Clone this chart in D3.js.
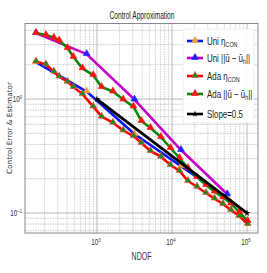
<!DOCTYPE html>
<html>
<head>
<meta charset="utf-8">
<script src="https://cdn.jsdelivr.net/npm/d3@7"></script>
<style>
  body { margin: 0; background: #fff; }
  svg text { font-family: "Liberation Sans", "DejaVu Sans", sans-serif; }
</style>
</head>
<body>
<div id="chart"></div>
<script>
// uniform refinement
var uniNdof = [154, 729, 3162, 13180, 54550];
var uniEta  = [2.11, 1.164, 0.493, 0.258, 0.135];
var uniErr  = [3.79, 2.48, 0.99, 0.357, 0.146];

// adaptive refinement
var adaNdof = [154, 209, 267, 314, 406, 486, 641, 893, 1156, 1634, 2243, 3069, 3920,
               5166, 7129, 9550, 12590, 16340, 21540, 28380, 36870, 47860, 61210, 78890, 102100];
var adaEta  = [2.13, 2.01, 1.74, 1.575, 1.418, 1.274, 1.106, 0.859, 0.70, 0.62, 0.53, 0.473, 0.411,
               0.35, 0.312, 0.264, 0.234, 0.191, 0.170, 0.150, 0.134, 0.120, 0.106, 0.0941, 0.080];
var adaErr  = [3.79, 3.64, 3.45, 3.26, 2.80, 2.34, 1.86, 1.62, 1.274, 1.164, 0.99, 0.859, 0.641,
               0.557, 0.464, 0.372, 0.304, 0.248, 0.207, 0.176, 0.154, 0.137, 0.121, 0.102, 0.0851];

// reference slope
var slopeNdof = [1000, 100000];
var slopeVal  = [1.0, 0.1];

var xTickExp = [3, 4, 5];
var yTickExp = [0, -1];

var svg = d3.select("#chart").append("svg")
  .attr("width", 267).attr("height", 273);

var x = d3.scaleLog().domain([110, 140000]).range([25, 258]);
var y = d3.scaleLog().domain([4.6, 0.0668]).range([23.5, 233]);

// narrow text: the original font is condensed, so squeeze horizontally
function ntext(g, px, py, size, sx, anchor) {
  return g.append("text")
    .attr("transform", "translate(" + px + "," + py + ") scale(" + sx + ",1)")
    .attr("text-anchor", anchor || "start")
    .attr("font-size", size);
}

// grid
var xMinor = [], yMinor = [];
[2, 3, 4].forEach(function(e) { for (var k = 1; k < 10; k++) xMinor.push(k * Math.pow(10, e)); });
xMinor.push(1e5);
[-2, -1, 0].forEach(function(e) { for (var k = 1; k < 10; k++) yMinor.push(k * Math.pow(10, e)); });
xMinor = xMinor.filter(function(v) { return v > 110 && v < 140000; });
yMinor = yMinor.filter(function(v) { return v > 0.0668 && v < 4.6; });
function isMajor(exps, d) { return exps.some(function(e) { return Math.abs(Math.pow(10, e) - d) < 1e-9; }); }

var grid = svg.append("g");
grid.selectAll(".gx").data(xMinor).enter().append("line")
  .attr("x1", function(d) { return x(d); }).attr("x2", function(d) { return x(d); })
  .attr("y1", 23.5).attr("y2", 233)
  .attr("stroke", function(d) { return isMajor(xTickExp, d) ? "#a8a8a8" : "#c4c4c4"; })
  .attr("stroke-width", 0.8)
  .attr("stroke-dasharray", function(d) { return isMajor(xTickExp, d) ? null : "1.5,1"; });
grid.selectAll(".gy").data(yMinor).enter().append("line")
  .attr("y1", function(d) { return y(d); }).attr("y2", function(d) { return y(d); })
  .attr("x1", 25).attr("x2", 258)
  .attr("stroke", function(d) { return isMajor(yTickExp, d) ? "#a8a8a8" : "#bcbcbc"; })
  .attr("stroke-width", 0.8)
  .attr("stroke-dasharray", function(d) { return isMajor(yTickExp, d) ? null : "1.5,1"; });

// frame
svg.append("rect").attr("x", 25).attr("y", 23.5).attr("width", 233).attr("height", 209.5)
  .attr("fill", "none").attr("stroke", "#888").attr("stroke-width", 1);

// tick labels
xTickExp.forEach(function(e) {
  var t = ntext(svg, x(Math.pow(10, e)) - 1, 245, 9, 0.7, "middle").attr("fill", "#333");
  t.append("tspan").text("10");
  t.append("tspan").attr("font-size", 6).attr("dy", -3.5).text(e);
});
yTickExp.forEach(function(e) {
  var t = ntext(svg, 22, y(Math.pow(10, e)) + 3, 9, 0.7, "end").attr("fill", "#333");
  t.append("tspan").text("10");
  t.append("tspan").attr("font-size", 6).attr("dy", -3.5).text(e === 0 ? "0" : "\u22121");
});

// labels
ntext(svg, 142, 19, 10, 0.66, "middle").attr("fill", "#222").text("Control Approximation");
ntext(svg, 141.5, 260, 10, 0.7, "middle").attr("fill", "#333").text("NDOF");
svg.append("text").attr("transform", "translate(12,128) rotate(-90)").attr("text-anchor", "middle")
  .style("font-family", "DejaVu Sans").attr("font-size", 7.3).attr("fill", "#333")
  .text("Control Error & Estimator");

var line = d3.line().x(function(d) { return x(d[0]); }).y(function(d) { return y(d[1]); });

var series = [
  { xs: uniNdof, ys: uniEta, color: "#0a14ff", mfill: "#e8a040", medge: "#e8a040" },
  { xs: uniNdof, ys: uniErr, color: "#c400c4", mfill: "#2020ff", medge: "#2020ff" },
  { xs: adaNdof, ys: adaEta, color: "#ff0000", mfill: "#1a8a1a", medge: "#ff4040" },
  { xs: adaNdof, ys: adaErr, color: "#0a870a", mfill: "#ff1010", medge: "#ff1010" }
];
var tri = d3.symbol().type(d3.symbolTriangle).size(20);

series.forEach(function(s) {
  var pts = s.xs.map(function(v, i) { return [v, s.ys[i]]; });
  svg.append("path").datum(pts).attr("d", line)
    .attr("fill", "none").attr("stroke", s.color).attr("stroke-width", 2.6).attr("stroke-linejoin", "round");
  svg.selectAll(null).data(pts).enter().append("path")
    .attr("d", tri)
    .attr("transform", function(d) { return "translate(" + x(d[0]) + "," + (y(d[1]) - 0.5) + ")"; })
    .attr("fill", s.mfill).attr("stroke", s.medge).attr("stroke-width", 0.6);
});

var slopePts = slopeNdof.map(function(v, i) { return [v, slopeVal[i]]; });
svg.append("path").datum(slopePts).attr("d", line)
  .attr("fill", "none").attr("stroke", "#000").attr("stroke-width", 2.8);
svg.selectAll(null).data(slopePts).enter().append("path")
  .attr("d", d3.symbol().type(d3.symbolStar).size(14))
  .attr("transform", function(d) { return "translate(" + x(d[0]) + "," + y(d[1]) + ")"; })
  .attr("fill", "#000");

// legend
var legend = svg.append("g");
legend.append("rect").attr("x", 183).attr("y", 29).attr("width", 71).attr("height", 94).attr("rx", 2)
  .attr("fill", "#fff").attr("fill-opacity", 0.9).attr("stroke", "#e0e0e0").attr("stroke-width", 0.6);
var legItems = [
  { s: series[0], name: "Uni ", kind: "eta" },
  { s: series[1], name: "Uni ", kind: "err" },
  { s: series[2], name: "Ada ", kind: "eta" },
  { s: series[3], name: "Ada ", kind: "err" },
  { s: { color: "#000" }, name: "Slope=0.5", kind: "slope" }
];
var legY = [41, 58, 76, 94, 114];
legItems.forEach(function(it, i) {
  var ly = legY[i];
  legend.append("line").attr("x1", 187).attr("x2", 203).attr("y1", ly).attr("y2", ly)
    .attr("stroke", it.s.color).attr("stroke-width", 2.6);
  if (it.kind === "slope") {
    legend.append("path").attr("d", d3.symbol().type(d3.symbolStar).size(14))
      .attr("transform", "translate(195," + ly + ")").attr("fill", "#000");
  } else {
    legend.append("path").attr("d", tri).attr("transform", "translate(195," + (ly - 0.5) + ")")
      .attr("fill", it.s.mfill).attr("stroke", it.s.medge).attr("stroke-width", 0.6);
  }
  var t = ntext(legend, 207, ly + 4, 11, 0.72).attr("fill", "#222");
  t.append("tspan").text(it.name);
  if (it.kind === "eta") {
    t.append("tspan").text("\u03b7");
    t.append("tspan").attr("font-size", 7.5).attr("dy", 2).text("CON");
  } else if (it.kind === "err") {
    t.append("tspan").text("||\u016b \u2212 \u016b");
    t.append("tspan").attr("font-size", 7.5).attr("dy", 2).text("h");
    t.append("tspan").attr("dy", -2).text("||");
  } else {
    t.append("tspan").text("");
  }
});
</script>
</body>
</html>
